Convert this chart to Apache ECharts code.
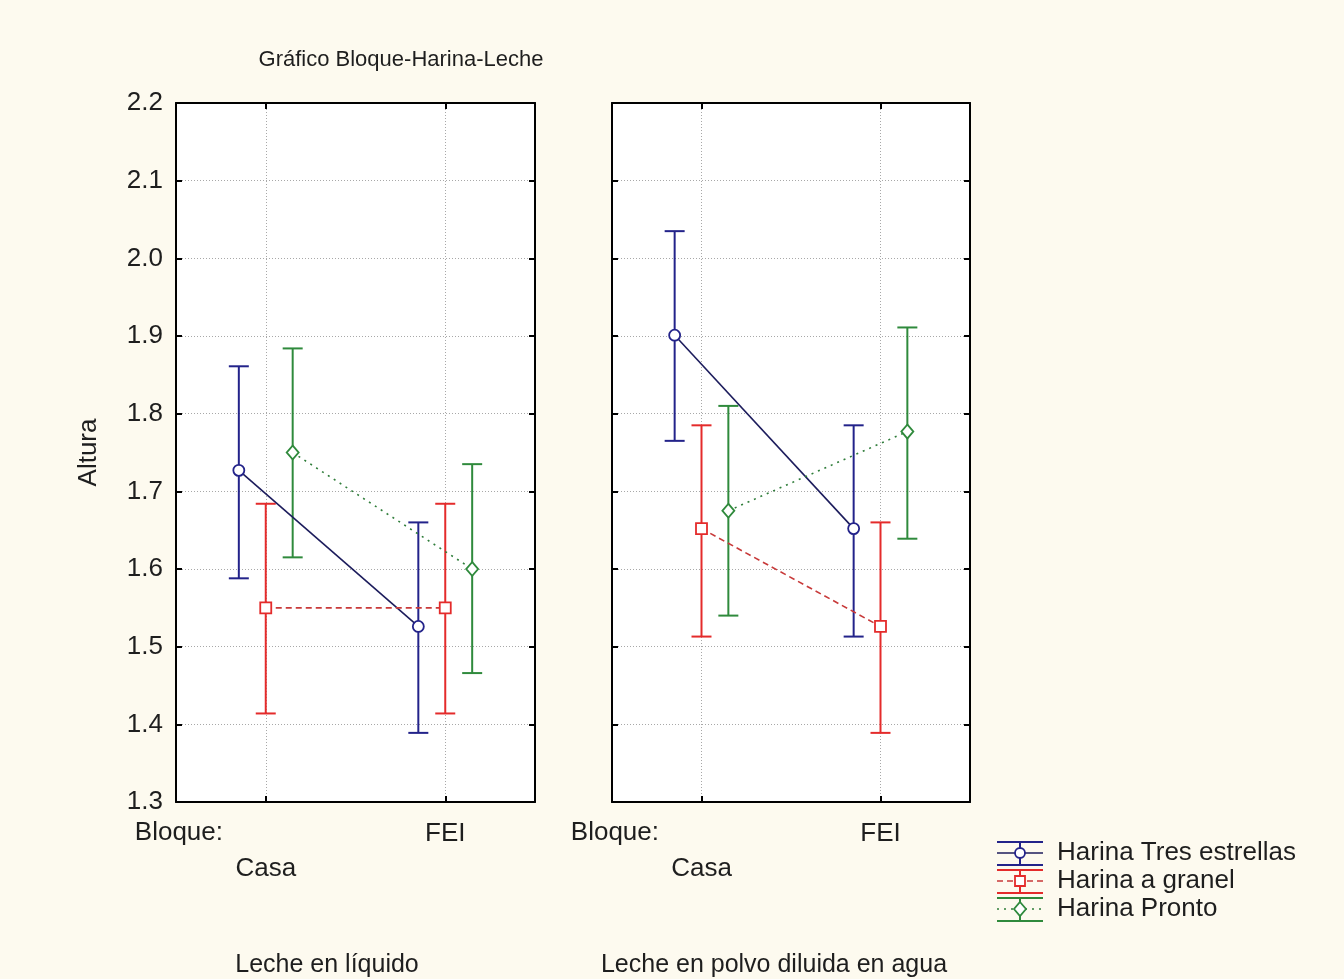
<!DOCTYPE html>
<html><head><meta charset="utf-8">
<script src="https://cdn.jsdelivr.net/npm/echarts@6/dist/echarts.min.js"></script>
<style>html,body{margin:0;padding:0;background:#fdfaef}#c{width:1344px;height:979px}</style>
</head><body><div id="c"></div>
<script>
// ---- data ----
const chartTitle = 'Gráfico Bloque-Harina-Leche';
const yAxisName = 'Altura';
const factorName = 'Bloque:';
const categories = ['Casa', 'FEI'];
const panels = ['Leche en líquido', 'Leche en polvo diluida en agua'];
const harinas = ['Harina Tres estrellas', 'Harina a granel', 'Harina Pronto'];
const yMin = 1.3, yMax = 2.2, yStep = 0.1;
// [harina][bloque]
const meanLiquido = [[1.727, 1.526], [1.550, 1.550], [1.750, 1.600]];
const lowLiquido  = [[1.588, 1.389], [1.414, 1.414], [1.615, 1.466]];
const highLiquido = [[1.861, 1.660], [1.684, 1.684], [1.884, 1.735]];
const meanPolvo = [[1.901, 1.652], [1.652, 1.526], [1.675, 1.777]];
const lowPolvo  = [[1.765, 1.513], [1.513, 1.389], [1.540, 1.639]];
const highPolvo = [[2.035, 1.785], [1.785, 1.660], [1.810, 1.911]];

// ---- styles ----
const FONT = '"Liberation Sans", Arial, sans-serif';
const TXT = '#1e1e1e';
const colors = ['#23238a', '#e42b2b', '#2f8a3c'];
const lineColors = ['#1c1c5c', '#c83a3a', '#2f7d3a'];
const lineTypes = ['solid', [6, 4], [2, 5]];
const symbols = ['circle', 'rect', 'diamond'];
const symbolSizes = [11, 11, [12, 14]];
const offsets = [-0.15, 0, 0.15];
const gridTop = 103, gridHeight = 699;
const gridsPos = [{ left: 176, width: 359 }, { left: 612, width: 358 }];
const panelData = [
  { mean: meanLiquido, low: lowLiquido, high: highLiquido },
  { mean: meanPolvo, low: lowPolvo, high: highPolvo }
];

const grid = gridsPos.map(g => ({
  left: g.left, top: gridTop, width: g.width, height: gridHeight,
  show: true, backgroundColor: '#ffffff', borderWidth: 0
}));

const axisLineStyle = { show: true, onZero: false, lineStyle: { color: '#000', width: 2 } };
const tickStyle = { show: true, inside: true, length: 6, lineStyle: { color: '#000', width: 2 } };
const xAxis = [];
const yAxis = [];
panels.forEach((pn, p) => {
  xAxis.push({
    type: 'value', gridIndex: p, min: -0.5, max: 1.5, interval: 0.5,
    axisLine: { show: false, onZero: false }, axisTick: { show: false }, axisLabel: { show: false },
    splitLine: { show: true, lineStyle: { color: ['rgba(0,0,0,0)', '#a8a8a8'], type: [1, 2], width: 1 } }
  });
  xAxis.push({
    type: 'category', gridIndex: p, position: 'bottom', data: categories, boundaryGap: true,
    axisLine: axisLineStyle, axisTick: Object.assign({ alignWithLabel: true }, tickStyle),
    axisLabel: {
      show: true, margin: 14, color: TXT, fontFamily: FONT, fontSize: 26, lineHeight: 35,
      formatter: (v, i) => (i === 0 ? '\n' + v : v)
    },
    splitLine: { show: false }
  });
  xAxis.push({
    type: 'category', gridIndex: p, position: 'top', data: categories, boundaryGap: true,
    axisLine: axisLineStyle, axisTick: Object.assign({ alignWithLabel: true }, tickStyle),
    axisLabel: { show: false }, splitLine: { show: false }
  });
  yAxis.push({
    type: 'value', gridIndex: p, position: 'left', min: yMin, max: yMax, interval: yStep,
    name: p === 0 ? yAxisName : '', nameLocation: 'middle', nameGap: 74,
    nameTextStyle: { color: TXT, fontFamily: FONT, fontSize: 26 },
    axisLine: axisLineStyle, axisTick: tickStyle,
    axisLabel: { show: p === 0, margin: 13, color: TXT, fontFamily: FONT, fontSize: 26,
      formatter: v => v.toFixed(1) },
    splitLine: { show: true, lineStyle: { color: '#a8a8a8', type: [1, 2], width: 1 } }
  });
  yAxis.push({
    type: 'value', gridIndex: p, position: 'right', min: yMin, max: yMax, interval: yStep,
    axisLine: axisLineStyle, axisTick: tickStyle, axisLabel: { show: false }, splitLine: { show: false }
  });
});

const series = [];
panelData.forEach((pd, p) => {
  harinas.forEach((name, h) => {
    const color = colors[h];
    series.push({
      type: 'custom', name: name, xAxisIndex: 3 * p, yAxisIndex: 2 * p, z: 3,
      data: categories.map((c, k) => [k + offsets[h], pd.low[h][k], pd.high[h][k]]),
      encode: { x: 0, y: [1, 2] },
      renderItem: (params, api) => {
        const x = api.value(0);
        const a = api.coord([x, api.value(1)]);
        const b = api.coord([x, api.value(2)]);
        const cap = 10;
        const st = { stroke: color, lineWidth: 2 };
        return { type: 'group', children: [
          { type: 'line', shape: { x1: a[0], y1: a[1], x2: b[0], y2: b[1] }, style: st },
          { type: 'line', shape: { x1: a[0] - cap, y1: a[1], x2: a[0] + cap, y2: a[1] }, style: st },
          { type: 'line', shape: { x1: b[0] - cap, y1: b[1], x2: b[0] + cap, y2: b[1] }, style: st }
        ] };
      },
      animation: false
    });
  });
  harinas.forEach((name, h) => {
    series.push({
      type: 'line', name: name, xAxisIndex: 3 * p, yAxisIndex: 2 * p, z: 5,
      data: categories.map((c, k) => [k + offsets[h], pd.mean[h][k]]),
      symbol: symbols[h], symbolSize: symbolSizes[h], showSymbol: true,
      lineStyle: { color: lineColors[h], width: 1.6, type: lineTypes[h] },
      itemStyle: { color: '#ffffff', borderColor: colors[h], borderWidth: 1.8 },
      animation: false, silent: true
    });
  });
});

// ---- texts & legend (graphic) ----
const graphic = [];
gridsPos.forEach((g, p) => {
  graphic.push({ type: 'text', x: g.left + 47, y: 833,
    style: { text: factorName, fill: TXT, font: '26px ' + FONT, textAlign: 'right', textVerticalAlign: 'middle' } });
});
const captionX = [327, 774];
panels.forEach((pn, p) => {
  graphic.push({ type: 'text', x: captionX[p], y: 965,
    style: { text: pn, fill: TXT, font: '25px ' + FONT, textAlign: 'center', textVerticalAlign: 'middle' } });
});
harinas.forEach((name, h) => {
  const cy = 853 + 28 * h, x0 = 997, x1 = 1043, cx = 1020;
  const c = colors[h];
  const dash = lineTypes[h] === 'solid' ? null : lineTypes[h];
  const children = [
    { type: 'line', shape: { x1: x0, y1: cy - 11, x2: x1, y2: cy - 11 }, style: { stroke: c, lineWidth: 2 } },
    { type: 'line', shape: { x1: x0, y1: cy + 12, x2: x1, y2: cy + 12 }, style: { stroke: c, lineWidth: 2 } },
    { type: 'line', shape: { x1: cx, y1: cy - 11, x2: cx, y2: cy + 12 }, style: { stroke: c, lineWidth: 2 } },
    { type: 'line', shape: { x1: x0, y1: cy, x2: x1, y2: cy }, style: { stroke: lineColors[h], lineWidth: 1.6, lineDash: dash } }
  ];
  const ms = { fill: '#fff', stroke: c, lineWidth: 1.8 };
  if (h === 0) children.push({ type: 'circle', shape: { cx: cx, cy: cy, r: 5 }, style: ms });
  if (h === 1) children.push({ type: 'rect', shape: { x: cx - 5, y: cy - 5, width: 10, height: 10 }, style: ms });
  if (h === 2) children.push({ type: 'polygon', shape: { points: [[cx, cy - 7], [cx + 6, cy], [cx, cy + 7], [cx - 6, cy]] }, style: ms });
  children.push({ type: 'text', x: 1057, y: cy, style: { text: name, fill: TXT, font: '26px ' + FONT, textVerticalAlign: 'middle' } });
  graphic.push({ type: 'group', children: children });
});

const chart = echarts.init(document.getElementById('c'), null, { renderer: 'canvas' });
chart.setOption({
  backgroundColor: '#fdfaef',
  animation: false,
  title: { text: chartTitle, left: 396, top: 44, textAlign: 'center',
    textStyle: { color: TXT, fontFamily: FONT, fontSize: 22, fontWeight: 'normal' } },
  grid: grid, xAxis: xAxis, yAxis: yAxis, series: series, graphic: graphic
});
</script></body></html>
